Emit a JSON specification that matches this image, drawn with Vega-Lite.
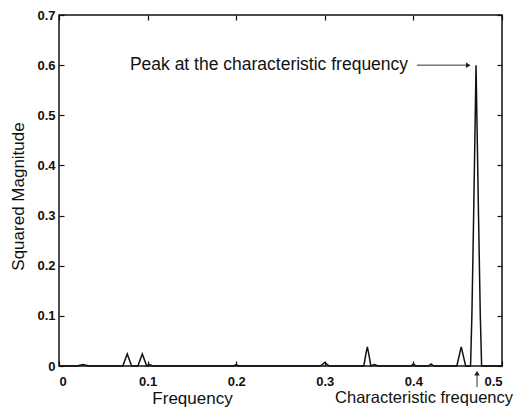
{
  "$schema": "https://vega.github.io/schema/vega-lite/v6.json",
  "autosize": "none",
  "padding": {"left": 59, "top": 15, "right": 20, "bottom": 46},
  "width": 443,
  "height": 351,
  "config": {
    "view": {"stroke": "#111", "strokeWidth": 1.5},
    "font": "Liberation Sans",
    "axis": {
      "grid": false,
      "domain": false,
      "offset": -5,
      "tickSize": 5,
      "tickColor": "#111",
      "tickWidth": 1.2,
      "labelColor": "#111",
      "labelFont": "Liberation Sans",
      "labelFontSize": 13,
      "labelFontWeight": "bold",
      "titleColor": "#111",
      "titleFont": "Liberation Sans",
      "titleFontSize": 17,
      "titleFontWeight": "normal"
    }
  },
  "datasets": {
    "spectrum": [
      {"f": 0.0, "m": 0.0},
      {"f": 0.02, "m": 0.0},
      {"f": 0.027, "m": 0.003},
      {"f": 0.034, "m": 0.0},
      {"f": 0.072, "m": 0.0},
      {"f": 0.077, "m": 0.024},
      {"f": 0.082, "m": 0.0},
      {"f": 0.089, "m": 0.0},
      {"f": 0.094, "m": 0.024},
      {"f": 0.099, "m": 0.0},
      {"f": 0.102, "m": 0.003},
      {"f": 0.106, "m": 0.0},
      {"f": 0.197, "m": 0.0},
      {"f": 0.2, "m": 0.003},
      {"f": 0.203, "m": 0.0},
      {"f": 0.295, "m": 0.0},
      {"f": 0.3, "m": 0.007},
      {"f": 0.305, "m": 0.0},
      {"f": 0.344, "m": 0.0},
      {"f": 0.3465, "m": 0.025},
      {"f": 0.348, "m": 0.038},
      {"f": 0.3495, "m": 0.025},
      {"f": 0.352, "m": 0.0},
      {"f": 0.356, "m": 0.003},
      {"f": 0.36, "m": 0.0},
      {"f": 0.397, "m": 0.0},
      {"f": 0.4, "m": 0.004},
      {"f": 0.403, "m": 0.0},
      {"f": 0.417, "m": 0.0},
      {"f": 0.42, "m": 0.004},
      {"f": 0.423, "m": 0.0},
      {"f": 0.449, "m": 0.0},
      {"f": 0.454, "m": 0.038},
      {"f": 0.459, "m": 0.0},
      {"f": 0.4645, "m": 0.0},
      {"f": 0.466, "m": 0.1},
      {"f": 0.468, "m": 0.3},
      {"f": 0.4707, "m": 0.6},
      {"f": 0.4735, "m": 0.3},
      {"f": 0.4755, "m": 0.1},
      {"f": 0.477, "m": 0.0},
      {"f": 0.5, "m": 0.0}
    ],
    "note1": [
      {"f": 0.394, "m": 0.6, "label": "Peak at the characteristic frequency"}
    ],
    "note2": [
      {"f": 0.412, "m": -0.074, "label": "Characteristic frequency"}
    ],
    "arrows": [
      {"f": 0.404, "m": 0.6, "f2": 0.46, "m2": 0.6},
      {"f": 0.4718, "m": -0.042, "f2": 0.4718, "m2": -0.016}
    ],
    "heads": [
      {"f": 0.462, "m": 0.6, "shape": "triangle-right"},
      {"f": 0.4718, "m": -0.014, "shape": "triangle-up"}
    ]
  },
  "resolve": {"axis": {"x": "independent", "y": "independent"}},
  "layer": [
    {
      "data": {"name": "spectrum"},
      "mark": {"type": "line", "color": "#111", "strokeWidth": 1.5},
      "encoding": {
        "x": {
          "field": "f", "type": "quantitative",
          "scale": {"domain": [0, 0.5], "nice": false, "zero": false},
          "axis": {
            "orient": "bottom", "values": [0, 0.1, 0.2, 0.3, 0.4, 0.5], "format": ".1~f",
            "labelPadding": 9, "title": "Frequency",
            "titleX": 133, "titleY": 42, "titleAlign": "center", "titleBaseline": "alphabetic", "titleAnchor": null
          }
        },
        "y": {
          "field": "m", "type": "quantitative",
          "scale": {"domain": [0, 0.7], "nice": false},
          "axis": {
            "orient": "left", "values": [0, 0.1, 0.2, 0.3, 0.4, 0.5, 0.6, 0.7], "format": ".1~f",
            "labelPadding": 4, "title": "Squared Magnitude",
            "titleX": -46, "titleY": 181, "titleAngle": 270, "titleAlign": "center", "titleBaseline": "middle"
          }
        }
      }
    },
    {
      "data": {"name": "spectrum"},
      "mark": {"type": "line", "opacity": 0},
      "encoding": {
        "x": {
          "field": "f", "type": "quantitative",
          "axis": {"orient": "top", "values": [0, 0.1, 0.2, 0.3, 0.4, 0.5], "labels": false, "title": null}
        },
        "y": {
          "field": "m", "type": "quantitative",
          "axis": {"orient": "right", "values": [0, 0.1, 0.2, 0.3, 0.4, 0.5, 0.6, 0.7], "labels": false, "title": null}
        }
      }
    },
    {
      "data": {"name": "arrows"},
      "mark": {"type": "rule", "color": "#333", "strokeWidth": 1},
      "encoding": {
        "x": {"field": "f", "type": "quantitative", "axis": null},
        "y": {"field": "m", "type": "quantitative", "axis": null},
        "x2": {"field": "f2"},
        "y2": {"field": "m2"}
      }
    },
    {
      "data": {"name": "heads"},
      "mark": {"type": "point", "filled": true, "color": "#222", "size": 30, "opacity": 1},
      "encoding": {
        "x": {"field": "f", "type": "quantitative", "axis": null},
        "y": {"field": "m", "type": "quantitative", "axis": null},
        "shape": {"field": "shape", "type": "nominal", "scale": null, "legend": null}
      }
    },
    {
      "data": {"name": "note1"},
      "mark": {"type": "text", "font": "Liberation Sans", "fontSize": 17.5, "color": "#111", "baseline": "middle", "align": "right"},
      "encoding": {
        "x": {"field": "f", "type": "quantitative", "axis": null},
        "y": {"field": "m", "type": "quantitative", "axis": null},
        "text": {"field": "label"}
      }
    },
    {
      "data": {"name": "note2"},
      "mark": {"type": "text", "font": "Liberation Sans", "fontSize": 16.5, "color": "#111", "baseline": "alphabetic", "align": "center"},
      "encoding": {
        "x": {"field": "f", "type": "quantitative", "axis": null},
        "y": {"field": "m", "type": "quantitative", "axis": null},
        "text": {"field": "label"}
      }
    }
  ]
}
